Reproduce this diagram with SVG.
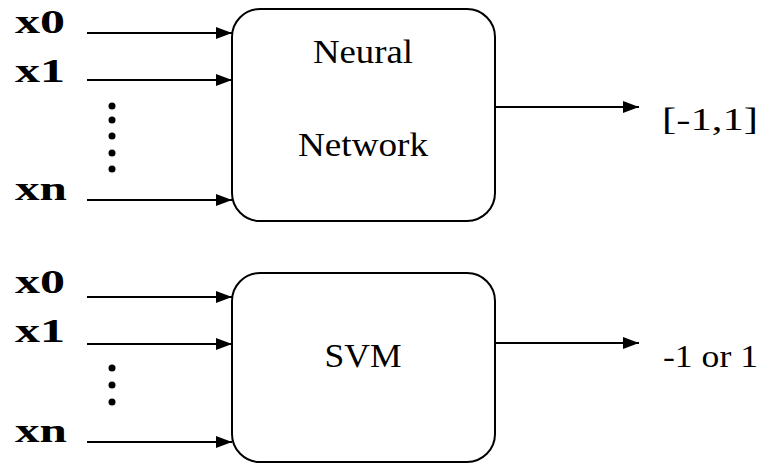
<svg xmlns="http://www.w3.org/2000/svg" width="762" height="465" viewBox="0 0 762 465">
<style>
.box{fill:#fff;stroke:#000;stroke-width:2}
.ln{stroke:#000;stroke-width:1.8;fill:none;marker-end:url(#ah)}
.lbl{font-family:"Liberation Serif","Times New Roman",serif;font-weight:bold;font-size:34px;fill:#000}
.t{font-family:"Liberation Serif","Times New Roman",serif;font-size:34px;fill:#000;text-anchor:middle}
.o{font-family:"Liberation Serif","Times New Roman",serif;font-size:32px;fill:#000}
</style>
<defs>
<marker id="ah" markerWidth="16" markerHeight="12" refX="16" refY="6" orient="auto" markerUnits="userSpaceOnUse">
<path d="M0,0 L16,6 L0,12 Z" fill="#000"/>
</marker>
</defs>
<g id="connectors">
<line class="ln" x1="87" y1="33" x2="232" y2="33"/>
<line class="ln" x1="87" y1="80" x2="232" y2="80"/>
<line class="ln" x1="87" y1="200" x2="232" y2="200"/>
<line class="ln" x1="495" y1="107" x2="639" y2="107"/>
<line class="ln" x1="87" y1="297" x2="232" y2="297"/>
<line class="ln" x1="87" y1="344" x2="232" y2="344"/>
<line class="ln" x1="87" y1="442" x2="232" y2="442"/>
<line class="ln" x1="495" y1="343" x2="639" y2="343"/>
</g>
<g id="inputs1">
<text class="lbl" x="15" y="33" textLength="50" lengthAdjust="spacingAndGlyphs">x0</text>
<text class="lbl" x="15" y="82" textLength="50" lengthAdjust="spacingAndGlyphs">x1</text>
<text class="lbl" x="15" y="200" textLength="52" lengthAdjust="spacingAndGlyphs">xn</text>
<circle cx="112" cy="106" r="3.5"/>
<circle cx="112" cy="120" r="3.5"/>
<circle cx="112" cy="136" r="3.5"/>
<circle cx="112" cy="153" r="3.5"/>
<circle cx="112" cy="169" r="3.5"/>
</g>
<g id="nn">
<rect class="box" x="232" y="9" width="263" height="212" rx="28" ry="28"/>
<text class="t" x="363" y="63" textLength="100" lengthAdjust="spacingAndGlyphs">Neural</text>
<text class="t" x="363" y="156" textLength="130" lengthAdjust="spacingAndGlyphs">Network</text>
</g>
<g id="out1">
<text class="o" x="662" y="130" font-size="38" textLength="96" lengthAdjust="spacingAndGlyphs">[-1,1]</text>
</g>
<g id="inputs2">
<text class="lbl" x="15" y="293" textLength="50" lengthAdjust="spacingAndGlyphs">x0</text>
<text class="lbl" x="15" y="342" textLength="50" lengthAdjust="spacingAndGlyphs">x1</text>
<text class="lbl" x="15" y="442" textLength="52" lengthAdjust="spacingAndGlyphs">xn</text>
<circle cx="112" cy="368" r="3.5"/>
<circle cx="112" cy="385" r="3.5"/>
<circle cx="112" cy="402" r="3.5"/>
</g>
<g id="svm">
<rect class="box" x="232" y="273" width="263" height="189" rx="28" ry="28"/>
<text class="t" x="363" y="367" textLength="77" lengthAdjust="spacingAndGlyphs">SVM</text>
</g>
<g id="out2">
<text class="o" x="663" y="367" textLength="95" lengthAdjust="spacingAndGlyphs">-1 or 1</text>
</g>
</svg>
